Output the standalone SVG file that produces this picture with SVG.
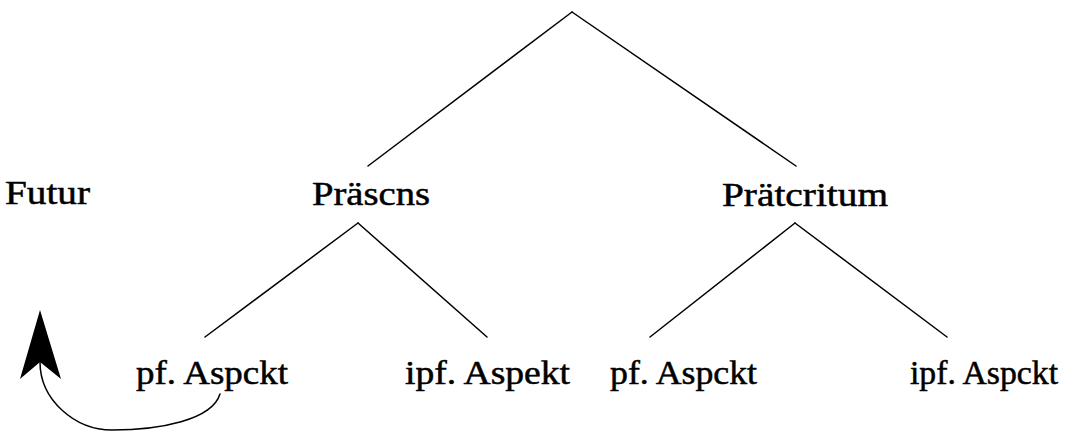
<svg xmlns="http://www.w3.org/2000/svg" width="1065" height="432" viewBox="0 0 1065 432">
  <style>
    .lbl { font-family: "Liberation Serif", "Times New Roman", serif; font-size: 33px; fill: #000; stroke: #000; stroke-width: 0.5; }
    .edge { stroke: #000; stroke-width: 1.5; fill: none; stroke-linecap: round; }
  </style>
  <defs>
    <!-- solid barbed arrowhead; reference point sits in the notch -->
    <marker id="barb" markerUnits="userSpaceOnUse" viewBox="-20 -22 75 44" refX="0" refY="0" markerWidth="75" markerHeight="44" orient="auto-start-reverse" overflow="visible">
      <path d="M52,0 L-17,-20 L0,0 L-17,21 Z" fill="#000"/>
    </marker>
  </defs>

  <rect width="1065" height="432" fill="#fff"/>

  <g id="connectors">
    <!-- root -->
    <line class="edge" x1="572" y1="12" x2="368" y2="166"/>
    <line class="edge" x1="572" y1="12" x2="796" y2="166"/>
    <!-- Präsens branch -->
    <line class="edge" x1="358" y1="223" x2="205" y2="337"/>
    <line class="edge" x1="358" y1="223" x2="487" y2="337"/>
    <!-- Präteritum branch -->
    <line class="edge" x1="795" y1="223" x2="650" y2="337"/>
    <line class="edge" x1="795" y1="223" x2="947" y2="337"/>
    <!-- curved arrow back up toward Futur -->
    <path class="edge" d="M40,362 C40,400 75,430 112,430 C160,430 212,420 220,394" marker-start="url(#barb)"/>
  </g>

  <g id="futur"><text class="lbl" x="5" y="204" textLength="85" lengthAdjust="spacingAndGlyphs">Futur</text></g>
  <g id="praesens"><text class="lbl" x="312" y="205" textLength="118" lengthAdjust="spacingAndGlyphs">Präscns</text></g>
  <g id="praeteritum"><text class="lbl" x="722" y="206" textLength="166" lengthAdjust="spacingAndGlyphs">Prätcritum</text></g>
  <g id="praes-pf"><text class="lbl" x="136" y="384" textLength="152" lengthAdjust="spacingAndGlyphs">pf. Aspckt</text></g>
  <g id="praes-ipf"><text class="lbl" x="405" y="384" textLength="165" lengthAdjust="spacingAndGlyphs">ipf. Aspekt</text></g>
  <g id="praet-pf"><text class="lbl" x="610" y="384" textLength="147" lengthAdjust="spacingAndGlyphs">pf. Aspckt</text></g>
  <g id="praet-ipf"><text class="lbl" x="910" y="384" textLength="148" lengthAdjust="spacingAndGlyphs">ipf. Aspckt</text></g>
</svg>
